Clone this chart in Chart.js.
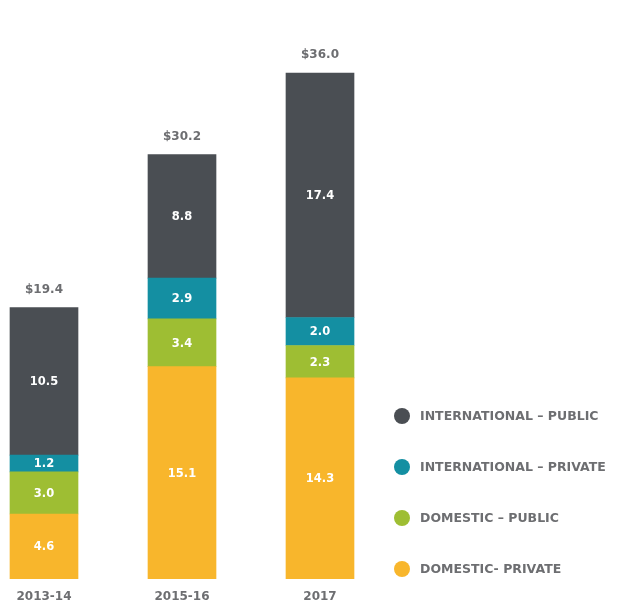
<!DOCTYPE html>
<html>
<head>
<meta charset="utf-8">
<script src="https://cdn.jsdelivr.net/npm/chart.js@4"></script>
<style>
  html, body { margin: 0; padding: 0; background: #fff; }
  #wrap { position: relative; width: 619px; height: 608px; }
</style>
</head>
<body>
<div id="wrap"><canvas id="chart" width="619" height="608"></canvas></div>
<script>
const years = ['2013-14', '2015-16', '2017'];
const totals = ['$19.4', '$30.2', '$36.0'];

const domesticPrivate = [4.6, 15.1, 14.3];
const domesticPublic = [3.0, 3.4, 2.3];
const intlPrivate = [1.2, 2.9, 2.0];
const intlPublic = [10.5, 8.8, 17.4];

const textGray = '#6d6e71';
const font = '"DejaVu Sans", sans-serif';

// labels inside the segments + totals above + legend on the right
const labelPlugin = {
    id: 'labels',
    afterDatasetsDraw(chart) {
        const ctx = chart.ctx;
        ctx.save();
        ctx.textAlign = 'center';
        ctx.textBaseline = 'middle';
        ctx.font = `bold 11.5px ${font}`;
        ctx.fillStyle = '#fff';
        chart.data.datasets.forEach((ds, i) => {
            chart.getDatasetMeta(i).data.forEach((bar, j) => {
                ctx.fillText(ds.data[j].toFixed(1), bar.x, (bar.y + bar.base) / 2 + 1);
            });
        });

        // totals
        const top = chart.getDatasetMeta(chart.data.datasets.length - 1).data;
        ctx.fillStyle = textGray;
        ctx.font = `bold 12px ${font}`;
        top.forEach((bar, j) => {
            ctx.fillText(totals[j], bar.x, bar.y - 18);
        });

        // legend, top dataset first
        ctx.textAlign = 'left';
        const items = chart.data.datasets.slice().reverse();
        items.forEach((ds, k) => {
            const y = 416 + k * 51;
            ctx.fillStyle = ds.backgroundColor;
            ctx.beginPath();
            ctx.arc(402, y, 8, 0, Math.PI * 2);
            ctx.fill();
            ctx.fillStyle = textGray;
            ctx.font = `bold 12.5px ${font}`;
            ctx.fillText(ds.label, 420, y + 1);
        });
        ctx.restore();
    }
};

new Chart(document.getElementById('chart'), {
    type: 'bar',
    data: {
        labels: years,
        datasets: [
            { label: 'DOMESTIC- PRIVATE', data: domesticPrivate, backgroundColor: '#f8b62c' },
            { label: 'DOMESTIC – PUBLIC', data: domesticPublic, backgroundColor: '#9ebe33' },
            { label: 'INTERNATIONAL – PRIVATE', data: intlPrivate, backgroundColor: '#148fa2' },
            { label: 'INTERNATIONAL – PUBLIC', data: intlPublic, backgroundColor: '#4a4e53' }
        ].map(d => Object.assign(d, { barThickness: 68, clip: false, borderWidth: 0 }))
    },
    options: {
        responsive: false,
        animation: false,
        layout: { padding: { left: 44, right: 299, top: 17, bottom: 1 } },
        plugins: { legend: { display: false }, tooltip: { enabled: false } },
        scales: {
            x: {
                stacked: true,
                offset: false,
                grid: { display: false },
                border: { display: false },
                ticks: { color: textGray, font: { family: font, size: 12, weight: 'bold' }, padding: 3 }
            },
            y: {
                stacked: true,
                display: false,
                min: 0,
                max: 40
            }
        }
    },
    plugins: [labelPlugin]
});
</script>
</body>
</html>
